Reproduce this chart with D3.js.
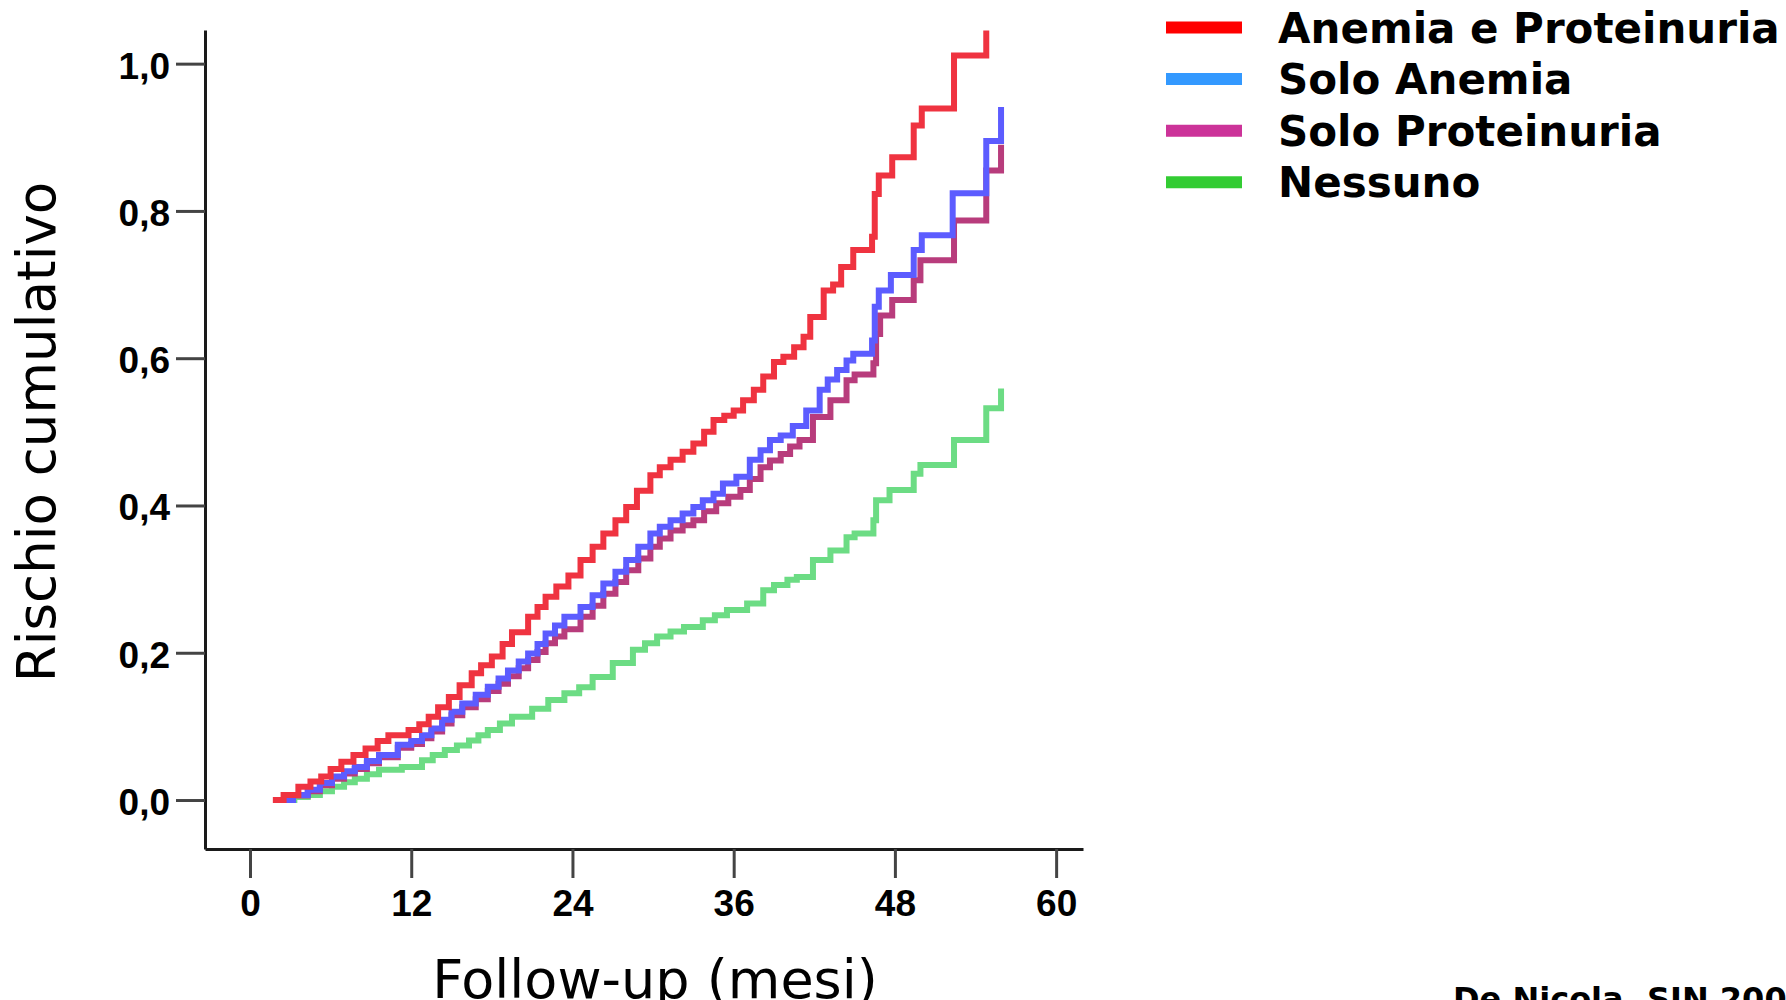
<!DOCTYPE html>
<html lang="it">
<head>
<meta charset="utf-8">
<title>Rischio cumulativo</title>
<style>
body {
  margin: 0;
  background: #fff;
}

.axis text {
  font: bold 37px "Liberation Sans", Arial, sans-serif;
  fill: #000;
}

.axis path {
  fill: none;
  stroke: #1a1a1a;
  stroke-width: 3;
}

.axis line {
  stroke: #444;
  stroke-width: 3;
}

.title {
  font-family: "DejaVu Sans", Verdana, sans-serif;
  fill: #000;
}

.legend text {
  font: bold 42px "DejaVu Sans", Verdana, sans-serif;
  fill: #000;
}

.curve {
  fill: none;
  stroke-width: 6;
}
</style>
</head>
<body>
<div id="chart"></div>

<script src="https://cdn.jsdelivr.net/npm/d3@7"></script>
<script>
// series: [month, cumulative risk] (step curves)
var anemiaProteinuria = [
  [1.7, 0], [2.5, 0.007], [3.6, 0.018], [4.5, 0.025], [5.3, 0.032], [6.0, 0.042],
  [6.8, 0.052], [7.7, 0.061], [8.6, 0.070], [9.5, 0.080], [10.3, 0.088], [11.8, 0.095],
  [12.6, 0.103], [13.3, 0.113], [14.0, 0.126], [14.8, 0.140], [15.6, 0.156], [16.5, 0.172],
  [17.2, 0.183], [18.0, 0.195], [18.8, 0.212], [19.5, 0.228], [20.7, 0.249], [21.4, 0.262],
  [22.0, 0.276], [22.8, 0.290], [23.7, 0.305], [24.6, 0.326], [25.5, 0.344], [26.3, 0.362],
  [27.2, 0.380], [28.0, 0.398], [28.8, 0.420], [29.8, 0.441], [30.5, 0.452], [31.3, 0.462],
  [32.2, 0.473], [33.0, 0.484], [33.8, 0.500], [34.5, 0.516], [35.3, 0.522], [36.0, 0.529],
  [36.7, 0.543], [37.5, 0.557], [38.2, 0.575], [39.0, 0.595], [39.7, 0.602], [40.5, 0.615],
  [41.2, 0.629], [41.7, 0.656], [42.7, 0.692], [43.4, 0.700], [44.0, 0.724], [44.9, 0.747],
  [46.3, 0.765], [46.5, 0.823], [46.8, 0.848], [47.8, 0.873], [49.4, 0.916], [50.0, 0.939],
  [52.4, 1.011], [54.8, 1.045]
];

var soloAnemia = [
  [2.1, 0], [3.2, 0.007], [4.3, 0.014], [5.2, 0.023], [6.1, 0.032], [7.0, 0.039],
  [7.8, 0.045], [8.7, 0.053], [9.6, 0.061], [11.0, 0.075], [12.0, 0.080], [12.8, 0.088],
  [13.5, 0.097], [14.3, 0.109], [15.0, 0.120], [15.8, 0.131], [16.8, 0.143], [17.7, 0.154],
  [18.5, 0.165], [19.2, 0.176], [20.0, 0.188], [20.7, 0.199], [21.4, 0.212], [22.0, 0.226],
  [22.7, 0.237], [23.4, 0.249], [24.6, 0.262], [25.5, 0.278], [26.3, 0.294], [27.2, 0.310],
  [28.0, 0.326], [28.9, 0.344], [29.8, 0.362], [30.5, 0.371], [31.3, 0.380], [32.2, 0.389],
  [33.0, 0.398], [33.7, 0.407], [34.5, 0.416], [35.2, 0.430], [36.2, 0.439], [37.2, 0.462],
  [38.0, 0.475], [38.7, 0.489], [39.5, 0.495], [40.4, 0.508], [41.4, 0.529], [42.4, 0.557],
  [43.0, 0.571], [43.7, 0.584], [44.4, 0.597], [44.9, 0.606], [46.3, 0.624], [46.5, 0.670],
  [46.8, 0.692], [47.7, 0.713], [49.4, 0.747], [50.0, 0.767], [52.3, 0.824], [54.8, 0.895],
  [55.9, 0.941]
];

var soloProteinuria = [
  [2.1, 0], [3.2, 0.006], [4.3, 0.012], [5.2, 0.020], [6.1, 0.029], [7.0, 0.036],
  [7.8, 0.042], [8.7, 0.050], [9.6, 0.058], [11.0, 0.071], [12.0, 0.076], [12.8, 0.084],
  [13.5, 0.093], [14.3, 0.104], [15.0, 0.115], [15.8, 0.126], [16.8, 0.137], [17.7, 0.148],
  [18.5, 0.158], [19.2, 0.168], [20.0, 0.179], [20.7, 0.190], [21.4, 0.201], [22.0, 0.213],
  [22.7, 0.222], [23.4, 0.232], [24.6, 0.249], [25.5, 0.264], [26.3, 0.280], [27.2, 0.296],
  [28.0, 0.312], [28.9, 0.328], [29.8, 0.344], [30.5, 0.355], [31.3, 0.366], [32.2, 0.373],
  [33.0, 0.380], [33.8, 0.392], [34.7, 0.403], [35.6, 0.412], [36.5, 0.421], [37.2, 0.436],
  [38.0, 0.452], [38.7, 0.461], [39.5, 0.470], [40.2, 0.480], [40.9, 0.489], [41.9, 0.520],
  [43.2, 0.543], [44.4, 0.570], [45.0, 0.578], [46.4, 0.593], [46.6, 0.633], [46.9, 0.658],
  [47.8, 0.679], [49.4, 0.706], [49.9, 0.733], [52.4, 0.787], [54.8, 0.855], [55.9, 0.890]
];

var nessuno = [
  [2.2, 0], [3.3, 0.004], [4.3, 0.007], [5.2, 0.012], [6.1, 0.018], [7.0, 0.024],
  [7.8, 0.029], [8.7, 0.035], [9.6, 0.041], [11.3, 0.045], [12.8, 0.054], [13.6, 0.061],
  [14.5, 0.068], [15.4, 0.074], [16.3, 0.081], [17.0, 0.088], [17.7, 0.095], [18.6, 0.104],
  [19.5, 0.113], [21.0, 0.124], [22.2, 0.136], [23.4, 0.145], [24.5, 0.153], [25.5, 0.167],
  [27.0, 0.186], [28.5, 0.204], [29.4, 0.213], [30.3, 0.222], [31.3, 0.229], [32.3, 0.235],
  [33.7, 0.244], [34.6, 0.251], [35.5, 0.258], [37.0, 0.267], [38.2, 0.285], [39.0, 0.292],
  [40.0, 0.299], [40.7, 0.303], [41.9, 0.326], [43.2, 0.339], [44.4, 0.357], [45.0, 0.362],
  [46.4, 0.380], [46.6, 0.407], [47.6, 0.421], [49.4, 0.443], [49.9, 0.455], [52.4, 0.489],
  [54.8, 0.532], [55.9, 0.559]
];

var groupNames = ["Anemia e Proteinuria", "Solo Anemia", "Solo Proteinuria", "Nessuno"];
var groupData = [anemiaProteinuria, soloAnemia, soloProteinuria, nessuno];
var legendColors = ["#ff0000", "#3399ff", "#cc3399", "#33cc33"];
var lineColors = ["#ef3340", "#5c5cff", "#b83c7c", "#6cdc84"];

var xTicks = [0, 12, 24, 36, 48, 60];
var yTicks = [0, 0.2, 0.4, 0.6, 0.8, 1.0];

var svg = d3.select("#chart").append("svg")
    .attr("width", 1786)
    .attr("height", 1000);

// scales (axis lines run a bit past 0 and the last tick)
var x = d3.scaleLinear().domain([-3.35, 62.0]).range([205, 1083]);
var y = d3.scaleLinear().domain([-0.0665, 1.0457]).range([849, 30]);

var itFormat = d3.formatLocale({ decimal: ",", thousands: ".", grouping: [3], currency: ["", "€"] }).format(".1f");

// axes
svg.append("g")
    .attr("class", "axis axis-x")
    .attr("transform", "translate(0,849)")
    .call(d3.axisBottom(x).tickValues(xTicks).tickSizeInner(29).tickSizeOuter(0).tickPadding(12));

svg.append("g")
    .attr("class", "axis axis-y")
    .attr("transform", "translate(205,0)")
    .call(d3.axisLeft(y).tickValues(yTicks).tickFormat(itFormat).tickSizeInner(29).tickSizeOuter(0).tickPadding(6))
  .selectAll("text")
    .attr("dy", "0.39em");

// curves, drawn bottom to top
var line = d3.line()
    .x(function(d) { return x(d[0]); })
    .y(function(d) { return y(d[1]); })
    .curve(d3.curveStepAfter);

[3, 2, 1, 0].forEach(function(i) {
  svg.append("path")
      .datum(groupData[i])
      .attr("class", "curve")
      .attr("stroke", lineColors[i])
      .attr("d", line);
});

// axis titles
svg.append("text")
    .attr("class", "title")
    .attr("x", 655)
    .attr("y", 998)
    .attr("text-anchor", "middle")
    .style("font-size", "54px")
    .text("Follow-up (mesi)");

svg.append("text")
    .attr("class", "title")
    .attr("transform", "translate(55,432) rotate(-90)")
    .attr("text-anchor", "middle")
    .style("font-size", "53px")
    .text("Rischio cumulativo");

// legend
var legend = svg.append("g").attr("class", "legend");
groupNames.forEach(function(name, i) {
  var cy = 27.5 + i * 51.6;
  legend.append("line")
      .attr("x1", 1166).attr("x2", 1242)
      .attr("y1", cy).attr("y2", cy)
      .attr("stroke", legendColors[i])
      .attr("stroke-width", 12);
  legend.append("text")
      .attr("x", 1278)
      .attr("y", cy + 15)
      .text(name);
});

// source note, cut by the bottom edge
svg.append("text")
    .attr("x", 1453)
    .attr("y", 1010)
    .style("font", "bold 32px 'DejaVu Sans', Verdana, sans-serif")
    .text("De Nicola, SIN 2008");
</script>
</body>
</html>
